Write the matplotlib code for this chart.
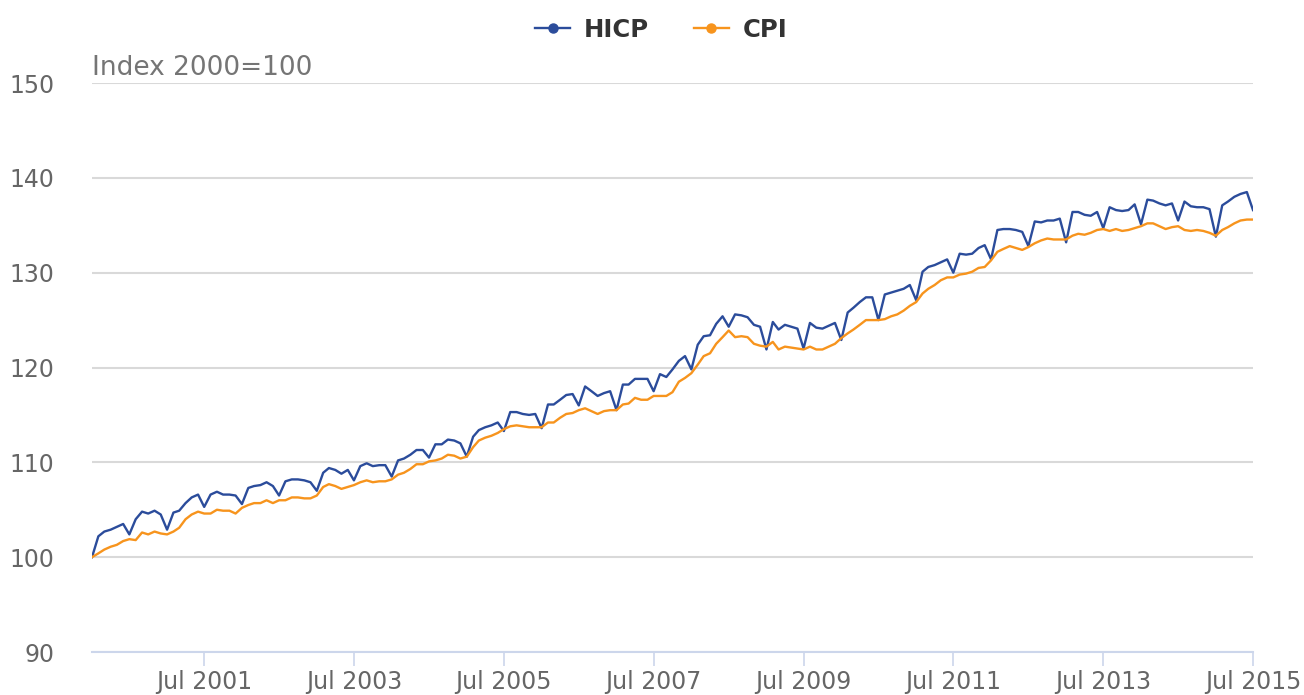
import pandas as pd
import matplotlib
matplotlib.use("Agg")
import matplotlib.pyplot as plt
import matplotlib.dates as mdates
from matplotlib.lines import Line2D

# monthly index values, Jan 2000 .. Jul 2015 (2000 = 100)
months = pd.date_range("2000-01-01", "2015-07-01", freq="MS")

hicp = [
    100.0, 102.2, 102.7, 102.9, 103.2, 103.5, 102.4, 104.0, 104.8, 104.6, 104.9, 104.5,
    102.9, 104.7, 104.9, 105.7, 106.3, 106.6, 105.3, 106.6, 106.9, 106.6, 106.6, 106.5,
    105.6, 107.3, 107.5, 107.6, 107.9, 107.5, 106.5, 108.0, 108.2, 108.2, 108.1, 107.9,
    107.0, 108.9, 109.4, 109.2, 108.8, 109.2, 108.1, 109.6, 109.9, 109.6, 109.7, 109.7,
    108.5, 110.2, 110.4, 110.8, 111.3, 111.3, 110.5, 111.9, 111.9, 112.4, 112.3, 112.0,
    110.6, 112.7, 113.4, 113.7, 113.9, 114.2, 113.3, 115.3, 115.3, 115.1, 115.0, 115.1,
    113.6, 116.1, 116.1, 116.6, 117.1, 117.2, 116.0, 118.0, 117.5, 117.0, 117.3, 117.5,
    115.5, 118.2, 118.2, 118.8, 118.8, 118.8, 117.5, 119.3, 119.0, 119.8, 120.7, 121.2,
    119.8, 122.4, 123.3, 123.4, 124.6, 125.4, 124.3, 125.6, 125.5, 125.3, 124.5, 124.3,
    121.9, 124.8, 124.0, 124.5, 124.3, 124.1, 122.0, 124.7, 124.2, 124.1, 124.4, 124.7,
    122.9, 125.8, 126.3, 126.9, 127.4, 127.4, 125.0, 127.7, 127.9, 128.1, 128.3, 128.7,
    127.1, 130.1, 130.6, 130.8, 131.1, 131.4, 130.0, 132.0, 131.9, 132.0, 132.6, 132.9,
    131.4, 134.5, 134.6, 134.6, 134.5, 134.3, 132.8, 135.4, 135.3, 135.5, 135.5, 135.7,
    133.2, 136.4, 136.4, 136.1, 136.0, 136.4, 134.7, 136.9, 136.6, 136.5, 136.6, 137.2,
    135.1, 137.7, 137.6, 137.3, 137.1, 137.3, 135.5, 137.5, 137.0, 136.9, 136.9, 136.7,
    133.8, 137.1, 137.5, 138.0, 138.3, 138.5, 136.6,
]

cpi = [
    100.0, 100.4, 100.8, 101.1, 101.3, 101.7, 101.9, 101.8, 102.6, 102.4, 102.7, 102.5,
    102.4, 102.7, 103.1, 104.0, 104.5, 104.8, 104.6, 104.6, 105.0, 104.9, 104.9, 104.6,
    105.2, 105.5, 105.7, 105.7, 106.0, 105.7, 106.0, 106.0, 106.3, 106.3, 106.2, 106.2,
    106.5, 107.4, 107.7, 107.5, 107.2, 107.4, 107.6, 107.9, 108.1, 107.9, 108.0, 108.0,
    108.2, 108.7, 108.9, 109.3, 109.8, 109.8, 110.1, 110.2, 110.4, 110.8, 110.7, 110.4,
    110.6, 111.6, 112.3, 112.6, 112.8, 113.1, 113.5, 113.8, 113.9, 113.8, 113.7, 113.7,
    113.7, 114.2, 114.2, 114.7, 115.1, 115.2, 115.5, 115.7, 115.4, 115.1, 115.4, 115.5,
    115.5, 116.1, 116.2, 116.8, 116.6, 116.6, 117.0, 117.0, 117.0, 117.4, 118.5, 118.9,
    119.4, 120.3, 121.2, 121.5, 122.5, 123.2, 123.9, 123.2, 123.3, 123.2, 122.5, 122.3,
    122.2, 122.7, 121.9, 122.2, 122.1, 122.0, 121.9, 122.2, 121.9, 121.9, 122.2, 122.5,
    123.1, 123.6, 124.0, 124.5, 125.0, 125.0, 125.0, 125.1, 125.4, 125.6, 126.0, 126.5,
    126.9, 127.8, 128.3, 128.7, 129.2, 129.5, 129.5, 129.8, 129.9, 130.1, 130.5, 130.6,
    131.3, 132.2, 132.5, 132.8, 132.6, 132.4, 132.7, 133.1, 133.4, 133.6, 133.5, 133.5,
    133.5, 133.9, 134.1, 134.0, 134.2, 134.5, 134.6, 134.4, 134.6, 134.4, 134.5, 134.7,
    134.9, 135.2, 135.2, 134.9, 134.6, 134.8, 134.9, 134.5, 134.4, 134.5, 134.4, 134.2,
    133.9, 134.5, 134.8, 135.2, 135.5, 135.6, 135.6,
]

series_names = ["HICP", "CPI"]
series_colors = ["#2b4c9b", "#f7941d"]
y_ticks = [90, 100, 110, 120, 130, 140, 150]
x_ticks = pd.date_range("2001-07-01", "2015-07-01", freq="24MS")

fig = plt.figure(figsize=(13.04, 6.95), dpi=100)
ax = fig.add_axes([92 / 1304, 43 / 695, (1253 - 92) / 1304, (652 - 83) / 695])

for name, vals, col in zip(series_names, [hicp, cpi], series_colors):
    ax.plot(months, vals, color=col, lw=1.7, label=name)

ax.set_ylim(90, 150)
ax.set_xlim(months[0], months[-1])
ax.set_yticks(y_ticks)
ax.set_xticks(x_ticks)
ax.xaxis.set_major_formatter(mdates.DateFormatter("%b %Y"))

ax.grid(axis="y", color="#d9d9d9", lw=1.5)
ax.set_axisbelow(True)
for s in ["top", "right", "left"]:
    ax.spines[s].set_visible(False)
ax.spines["bottom"].set_color("#ccd6eb")
ax.spines["bottom"].set_linewidth(1.5)

ax.tick_params(axis="y", length=0, pad=27, labelsize=17, labelcolor="#666666")
ax.tick_params(axis="x", length=10, width=1.2, color="#ccd6eb", pad=3,
               labelsize=17, labelcolor="#666666")

ax.text(0, 1.004, "Index 2000=100", transform=ax.transAxes, ha="left", va="bottom",
        fontsize=19, color="#757575")

handles = [Line2D([], [], color=c, lw=1.7, marker="o", markersize=6.5)
           for c in series_colors]
leg = fig.legend(handles, series_names, loc="center", bbox_to_anchor=(0.507, 0.957),
                 ncol=2, frameon=False, numpoints=1,
                 handlelength=1.45, handletextpad=0.55, columnspacing=1.85,
                 prop={"size": 17.5, "weight": "bold"})
for t in leg.get_texts():
    t.set_color("#333333")

fig.savefig("out.png", dpi=100)
